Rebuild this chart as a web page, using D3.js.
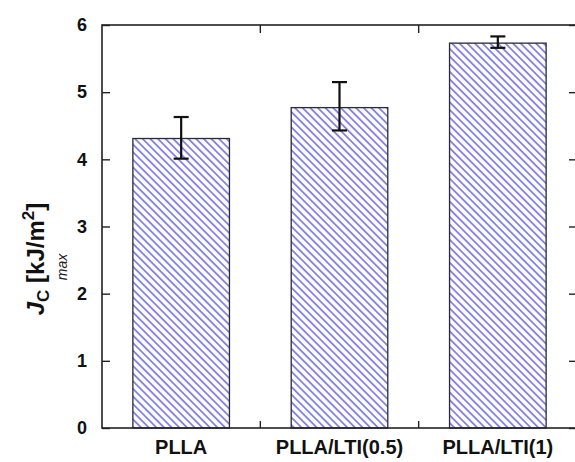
<!DOCTYPE html>
<html>
<head>
<meta charset="utf-8">
<script src="https://cdn.jsdelivr.net/npm/d3@7/dist/d3.min.js"></script>
<style>
  body { margin: 0; background: #fff; }
  svg text { font-family: "Liberation Sans", Arial, sans-serif; }
</style>
</head>
<body>
<div id="chart"></div>
<script>
// data
var categories = ["PLLA", "PLLA/LTI(0.5)", "PLLA/LTI(1)"];
var values = [4.31, 4.77, 5.73];
var errLow = [4.01, 4.43, 5.66];
var errHigh = [4.63, 5.15, 5.83];
var yTicks = [0, 1, 2, 3, 4, 5, 6];

var width = 575, height = 462;
var plot = { left: 102, right: 577, top: 25, bottom: 428 };

var svg = d3.select("#chart").append("svg")
    .attr("width", width)
    .attr("height", height);

// hatch fill for the bars
var defs = svg.append("defs");
var pat = defs.append("pattern")
    .attr("id", "hatch")
    .attr("patternUnits", "userSpaceOnUse")
    .attr("width", 10)
    .attr("height", 5.4)
    .attr("patternTransform", "rotate(45)");
pat.append("rect").attr("width", 10).attr("height", 5.4).attr("fill", "#fbfbff");
pat.append("line")
    .attr("x1", 0).attr("x2", 10)
    .attr("y1", 2.7).attr("y2", 2.7)
    .attr("stroke", "#5858cc")
    .attr("stroke-width", 1.3);

var x = d3.scaleBand()
    .domain(categories)
    .range([plot.left, plot.right])
    .paddingInner(0.39)
    .paddingOuter(0.195);

var y = d3.scaleLinear()
    .domain([0, 6])
    .range([plot.bottom, plot.top]);

// bars
svg.selectAll("rect.bar")
    .data(categories)
    .enter()
    .append("rect")
    .attr("class", "bar")
    .attr("x", function (d) { return x(d); })
    .attr("width", x.bandwidth())
    .attr("y", function (d, i) { return y(values[i]); })
    .attr("height", function (d, i) { return y(0) - y(values[i]); })
    .attr("fill", "url(#hatch)")
    .attr("stroke", "#2a2a3a")
    .attr("stroke-width", 1.3);

// error bars
var eb = svg.selectAll("g.err")
    .data(categories)
    .enter()
    .append("g")
    .attr("class", "err")
    .attr("stroke", "#111")
    .attr("stroke-width", 2.2);
eb.append("line")
    .attr("x1", function (d) { return x(d) + x.bandwidth() / 2; })
    .attr("x2", function (d) { return x(d) + x.bandwidth() / 2; })
    .attr("y1", function (d, i) { return y(errLow[i]); })
    .attr("y2", function (d, i) { return y(errHigh[i]); });
[errLow, errHigh].forEach(function (arr) {
    eb.append("line")
        .attr("x1", function (d) { return x(d) + x.bandwidth() / 2 - 7.5; })
        .attr("x2", function (d) { return x(d) + x.bandwidth() / 2 + 7.5; })
        .attr("y1", function (d, i) { return y(arr[i]); })
        .attr("y2", function (d, i) { return y(arr[i]); });
});

// frame
svg.append("rect")
    .attr("x", plot.left)
    .attr("y", plot.top)
    .attr("width", plot.right - plot.left)
    .attr("height", plot.bottom - plot.top)
    .attr("fill", "none")
    .attr("stroke", "#222")
    .attr("stroke-width", 1.6);

// left axis (inward ticks)
var yAxis = d3.axisLeft(y).tickValues(yTicks).tickSize(-8).tickPadding(15).tickFormat(d3.format("d"));
var gy = svg.append("g").attr("transform", "translate(" + plot.left + ",0)").call(yAxis);
gy.select(".domain").remove();
gy.selectAll(".tick line").attr("stroke", "#222").attr("stroke-width", 1.4);
gy.selectAll(".tick text")
    .attr("fill", "#111")
    .style("font-size", "18px")
    .style("font-weight", "bold");

// right axis ticks
var gr = svg.append("g").attr("transform", "translate(" + plot.right + ",0)")
    .call(d3.axisRight(y).tickValues(yTicks).tickSize(-8).tickFormat(""));
gr.select(".domain").remove();
gr.selectAll(".tick line").attr("stroke", "#222").attr("stroke-width", 1.4);

// category separator ticks, top and bottom
var seps = categories.slice(1).map(function (d) { return x(d) - x.step() * x.paddingInner() / 2; });
svg.selectAll("line.sepB").data(seps).enter().append("line")
    .attr("x1", function (d) { return d; }).attr("x2", function (d) { return d; })
    .attr("y1", plot.bottom).attr("y2", plot.bottom - 7)
    .attr("stroke", "#222").attr("stroke-width", 1.4);
svg.selectAll("line.sepT").data(seps).enter().append("line")
    .attr("x1", function (d) { return d; }).attr("x2", function (d) { return d; })
    .attr("y1", plot.top).attr("y2", plot.top + 8)
    .attr("stroke", "#222").attr("stroke-width", 1.4);

// x labels
var xAxis = d3.axisBottom(x).tickSize(0).tickPadding(12);
var gx = svg.append("g").attr("transform", "translate(0," + plot.bottom + ")").call(xAxis);
gx.select(".domain").remove();
gx.selectAll(".tick text")
    .attr("fill", "#111")
    .style("font-size", "20px")
    .style("font-weight", "bold");

// y label
var lab = svg.append("text")
    .attr("transform", "translate(44,259) rotate(-90)")
    .attr("text-anchor", "middle")
    .attr("fill", "#111")
    .style("font-size", "24px")
    .style("font-weight", "bold");
lab.append("tspan").style("font-style", "italic").text("J");
lab.append("tspan").attr("dy", 5).style("font-size", "17px").text("C");
lab.append("tspan").attr("dy", -5).text(" [kJ/m");
lab.append("tspan").attr("dy", -10).style("font-size", "17px").text("2");
lab.append("tspan").attr("dy", 10).text("]");

svg.append("text")
    .attr("transform", "translate(67,267) rotate(-90)")
    .attr("text-anchor", "middle")
    .attr("fill", "#222")
    .style("font-size", "14px")
    .style("font-style", "italic")
    .text("max");
</script>
</body>
</html>
